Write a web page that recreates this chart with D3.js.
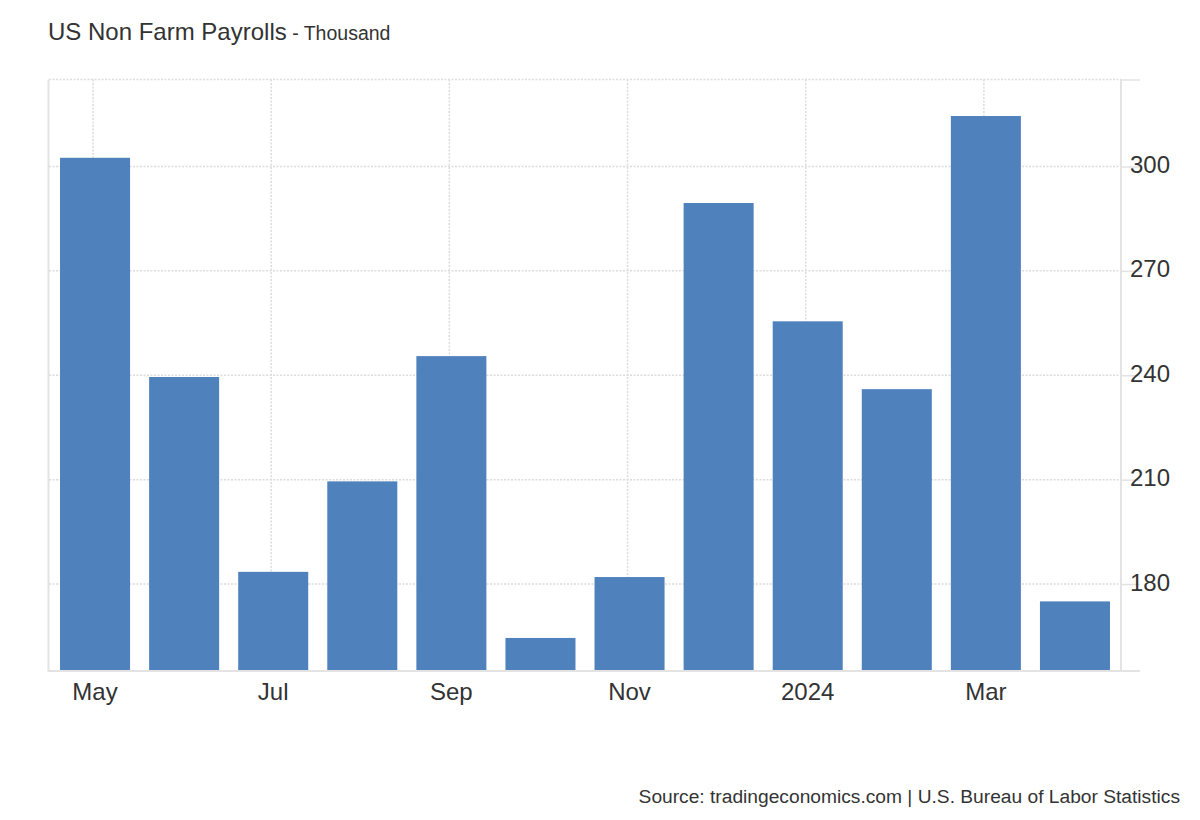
<!DOCTYPE html>
<html>
<head>
<meta charset="utf-8">
<script src="https://cdn.jsdelivr.net/npm/d3@7"></script>
<style>
  body { margin: 0; background: #fff; }
  text { font-family: "Liberation Sans", Arial, sans-serif; fill: #333; }
</style>
</head>
<body>
<figure id="chart" style="margin:0"></figure>
<script>
// monthly change, thousand
const months = ["May", "Jun", "Jul", "Aug", "Sep", "Oct", "Nov", "Dec", "2024", "Feb", "Mar", "Apr"];
const payrolls = [302.5, 239.5, 183.5, 209.5, 245.5, 164.5, 182, 289.5, 255.5, 236, 314.5, 175];
const xLabels = ["May", "Jul", "Sep", "Nov", "2024", "Mar"];
const yTicks = [180, 210, 240, 270, 300];
const yDomain = [155, 325];

const width = 1200;
const height = 820;
const plot = { left: 49, right: 1121, top: 79.5, bottom: 671 };
const color = "#4f81bd";
const gridColor = "#dcdcdc";
const axisColor = "#e3e3e3";

const svg = d3.select("figure#chart")
  .append("svg")
  .attr("width", width)
  .attr("height", height);

const xScale = d3.scaleBand()
  .domain(months)
  .range([50.5, 1119.5])
  .paddingInner(0.214)
  .paddingOuter(0.107);

const yScale = d3.scaleLinear()
  .domain(yDomain)
  .range([plot.bottom, plot.top]);

// horizontal grid
svg.append("g")
  .selectAll("line")
  .data(yTicks.concat([yDomain[1]]))
  .join("line")
  .attr("x1", plot.left)
  .attr("x2", plot.right)
  .attr("y1", d => yScale(d))
  .attr("y2", d => yScale(d))
  .attr("stroke", gridColor)
  .attr("stroke-width", 1.5)
  .attr("stroke-dasharray", "2,1.5");

// vertical grid on labelled months
svg.append("g")
  .selectAll("line")
  .data(xLabels)
  .join("line")
  .attr("x1", d => xScale(d) + xScale.bandwidth() / 2 - 2)
  .attr("x2", d => xScale(d) + xScale.bandwidth() / 2 - 2)
  .attr("y1", plot.top)
  .attr("y2", plot.bottom)
  .attr("stroke", gridColor)
  .attr("stroke-width", 1.5)
  .attr("stroke-dasharray", "2,1.5");

// bars
svg.append("g")
  .attr("fill", color)
  .selectAll("rect")
  .data(payrolls)
  .join("rect")
  .attr("x", (d, i) => xScale(months[i]))
  .attr("width", xScale.bandwidth())
  .attr("y", d => yScale(d))
  .attr("height", d => yScale(yDomain[0]) - yScale(d));

// axis frame
svg.append("line")
  .attr("x1", plot.left - 0.5).attr("x2", plot.left - 0.5)
  .attr("y1", plot.top).attr("y2", plot.bottom)
  .attr("stroke", axisColor).attr("stroke-width", 2);
svg.append("line")
  .attr("x1", plot.right).attr("x2", plot.right)
  .attr("y1", plot.top).attr("y2", plot.bottom)
  .attr("stroke", axisColor).attr("stroke-width", 2);
svg.append("line")
  .attr("x1", plot.left - 1.5).attr("x2", 1140)
  .attr("y1", plot.bottom).attr("y2", plot.bottom)
  .attr("stroke", axisColor).attr("stroke-width", 2);

// right y axis, labels sit over the end of the tick marks
const yAxis = d3.axisRight(yScale)
  .tickValues(yTicks.concat([yDomain[1]]))
  .tickSize(19)
  .tickPadding(-10)
  .tickFormat(d => yTicks.includes(d) ? d : "");

svg.append("g")
  .attr("transform", `translate(${plot.right},0)`)
  .call(yAxis)
  .call(g => g.select(".domain").remove())
  .call(g => g.selectAll(".tick line").attr("stroke", axisColor).attr("stroke-width", 1.5))
  .call(g => g.selectAll(".tick text")
    .attr("dy", "0.25em")
    .attr("font-size", 24)
    .attr("font-family", "Liberation Sans, Arial, sans-serif")
    .attr("fill", "#333"));

// bottom labels
svg.append("g")
  .selectAll("text")
  .data(xLabels)
  .join("text")
  .attr("x", d => xScale(d) + xScale.bandwidth() / 2)
  .attr("y", 700)
  .attr("text-anchor", "middle")
  .attr("font-size", 24)
  .text(d => d);

// title
const title = svg.append("text")
  .attr("x", 48)
  .attr("y", 40);
title.append("tspan").attr("font-size", 24).text("US Non Farm Payrolls");
title.append("tspan").attr("font-size", 19.5).text(" - Thousand");

// source
svg.append("text")
  .attr("x", 1180)
  .attr("y", 803)
  .attr("text-anchor", "end")
  .attr("font-size", 19.2)
  .text("Source: tradingeconomics.com | U.S. Bureau of Labor Statistics");
</script>
</body>
</html>
